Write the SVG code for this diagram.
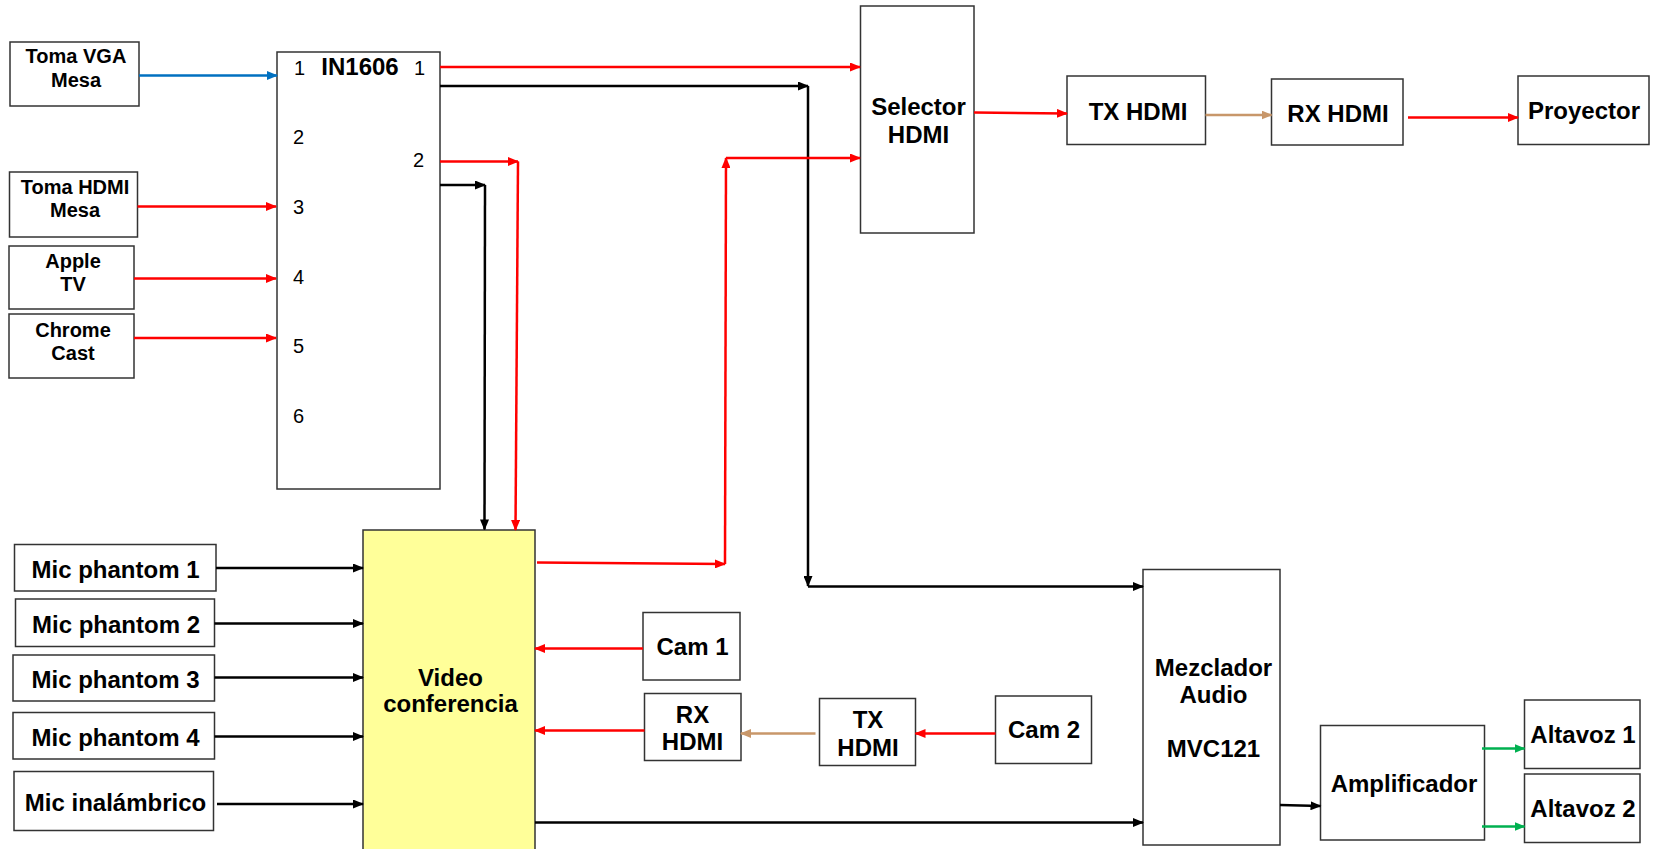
<svg xmlns="http://www.w3.org/2000/svg" width="1665" height="849" viewBox="0 0 1665 849">
<style>
.box{fill:#fff;stroke:#333;stroke-width:1.5}
.yel{fill:#ffff99;stroke:#333;stroke-width:1.5}
.t{font-family:"Liberation Sans",Arial,sans-serif;font-weight:bold;font-size:24px;fill:#000;text-anchor:middle}
.s{font-size:20px}
.n{font-family:"Liberation Sans",Arial,sans-serif;font-size:20px;fill:#000}
.r{stroke:#ff0000;stroke-width:2.5;fill:none;marker-end:url(#ar)}
.k{stroke:#000;stroke-width:2.5;fill:none;marker-end:url(#ak)}
.b{stroke:#0070c0;stroke-width:2.5;fill:none;marker-end:url(#ab)}
.o{stroke:#c8976a;stroke-width:2.5;fill:none;marker-end:url(#ao)}
.g{stroke:#00b050;stroke-width:2.5;fill:none;marker-end:url(#ag)}
</style>
<defs>
<marker id="ar" markerUnits="userSpaceOnUse" markerWidth="11" markerHeight="9" refX="10" refY="4.5" orient="auto"><path d="M0,0 L11,4.5 L0,9 z" fill="#ff0000"/></marker>
<marker id="ak" markerUnits="userSpaceOnUse" markerWidth="11" markerHeight="9" refX="10" refY="4.5" orient="auto"><path d="M0,0 L11,4.5 L0,9 z" fill="#000"/></marker>
<marker id="ab" markerUnits="userSpaceOnUse" markerWidth="11" markerHeight="9" refX="10" refY="4.5" orient="auto"><path d="M0,0 L11,4.5 L0,9 z" fill="#0070c0"/></marker>
<marker id="ao" markerUnits="userSpaceOnUse" markerWidth="11" markerHeight="9" refX="10" refY="4.5" orient="auto"><path d="M0,0 L11,4.5 L0,9 z" fill="#c8976a"/></marker>
<marker id="ag" markerUnits="userSpaceOnUse" markerWidth="11" markerHeight="9" refX="10" refY="4.5" orient="auto"><path d="M0,0 L11,4.5 L0,9 z" fill="#00b050"/></marker>
</defs>

<g id="toma-vga"><rect class="box" x="10" y="42" width="129" height="64"/><text class="t s" x="76" y="63">Toma VGA</text><text class="t s" x="76" y="87">Mesa</text></g>
<g id="toma-hdmi"><rect class="box" x="9.5" y="172" width="128" height="65"/><text class="t s" x="75" y="194">Toma HDMI</text><text class="t s" x="75" y="217">Mesa</text></g>
<g id="apple-tv"><rect class="box" x="9" y="246" width="125" height="63"/><text class="t s" x="73" y="268">Apple</text><text class="t s" x="73" y="291">TV</text></g>
<g id="chromecast"><rect class="box" x="9" y="314" width="125" height="64"/><text class="t s" x="73" y="337">Chrome</text><text class="t s" x="73" y="360">Cast</text></g>

<g id="in1606"><rect class="box" x="277" y="52" width="163" height="437"/>
<text class="n" x="294" y="75">1</text><text class="t" x="360" y="75" style="text-anchor:middle">IN1606</text><text class="n" x="414" y="75">1</text>
<text class="n" x="293" y="144">2</text><text class="n" x="413" y="167">2</text>
<text class="n" x="293" y="214">3</text><text class="n" x="293" y="284">4</text><text class="n" x="293" y="353">5</text><text class="n" x="293" y="423">6</text></g>

<g id="selector"><rect class="box" x="860.5" y="6" width="113.5" height="227"/><text class="t" x="918.5" y="115">Selector</text><text class="t" x="918.5" y="143">HDMI</text></g>
<g id="tx-hdmi-1"><rect class="box" x="1067" y="76" width="138.5" height="68.5"/><text class="t" x="1138" y="120">TX HDMI</text></g>
<g id="rx-hdmi-1"><rect class="box" x="1271.5" y="79" width="131.5" height="66"/><text class="t" x="1338" y="122">RX HDMI</text></g>
<g id="proyector"><rect class="box" x="1518" y="76" width="131" height="68.5"/><text class="t" x="1584" y="119">Proyector</text></g>

<g id="mic1"><rect class="box" x="14.5" y="544.5" width="201.5" height="46.5"/><text class="t" x="115.5" y="578">Mic phantom 1</text></g>
<g id="mic2"><rect class="box" x="15.5" y="599" width="199" height="47.5"/><text class="t" x="116" y="633">Mic phantom 2</text></g>
<g id="mic3"><rect class="box" x="13" y="655" width="201.5" height="46"/><text class="t" x="115.5" y="688">Mic phantom 3</text></g>
<g id="mic4"><rect class="box" x="13" y="712.5" width="201.5" height="46.5"/><text class="t" x="115.5" y="746">Mic phantom 4</text></g>
<g id="mic-inal"><rect class="box" x="14" y="771.5" width="199.5" height="59"/><text class="t" x="115.5" y="811">Mic inalámbrico</text></g>

<g id="videoconf"><rect class="yel" x="363" y="530" width="172" height="322"/><text class="t" x="450.5" y="686">Video</text><text class="t" x="450.5" y="712">conferencia</text></g>

<g id="cam1"><rect class="box" x="643" y="612.5" width="97" height="67.5"/><text class="t" x="692.5" y="655">Cam 1</text></g>
<g id="rx-hdmi-2"><rect class="box" x="644.5" y="693.5" width="96.5" height="67"/><text class="t" x="692.5" y="723">RX</text><text class="t" x="692.5" y="750">HDMI</text></g>
<g id="tx-hdmi-2"><rect class="box" x="819.5" y="698.5" width="96" height="67"/><text class="t" x="868" y="728">TX</text><text class="t" x="868" y="756">HDMI</text></g>
<g id="cam2"><rect class="box" x="995.5" y="696" width="96" height="67.5"/><text class="t" x="1044" y="738">Cam 2</text></g>

<g id="mezclador"><rect class="box" x="1143" y="569.5" width="137" height="275.5"/><text class="t" x="1213.5" y="676">Mezclador</text><text class="t" x="1213.5" y="703">Audio</text><text class="t" x="1213.5" y="757">MVC121</text></g>
<g id="amplificador"><rect class="box" x="1320.5" y="725.5" width="164" height="114.5"/><text class="t" x="1404" y="792">Amplificador</text></g>
<g id="altavoz1"><rect class="box" x="1524.5" y="700" width="115.5" height="68.5"/><text class="t" x="1583" y="743">Altavoz 1</text></g>
<g id="altavoz2"><rect class="box" x="1524.5" y="774" width="115.5" height="68.5"/><text class="t" x="1583" y="817">Altavoz 2</text></g>

<g id="connectors">
<path class="b" d="M139,75.5 H277"/>
<path class="r" d="M137.5,206.5 H276"/>
<path class="r" d="M134,278.5 H276"/>
<path class="r" d="M134,338 H276"/>
<path class="r" d="M440,67 H860"/>
<path class="k" d="M440,86 H808"/>
<path class="k" d="M808,86 V586"/>
<path class="k" d="M808,586.5 H1143"/>
<path class="r" d="M440,161.5 H518"/>
<path class="r" d="M518,161.5 L515.5,530"/>
<path class="k" d="M440,185 H485"/>
<path class="k" d="M485,185 L484.5,529.5"/>
<path class="r" d="M537,562.5 L725,564"/>
<path class="r" d="M725,564 L726,158"/>
<path class="r" d="M726,158 H860"/>
<path class="r" d="M974,112.5 L1067,113.5"/>
<path class="o" d="M1205.5,115 H1271.5"/>
<path class="r" d="M1408,117.5 H1518"/>
<path class="k" d="M216,568 H363"/>
<path class="k" d="M214.5,623.5 H363"/>
<path class="k" d="M214.5,677.5 H363"/>
<path class="k" d="M214.5,736.5 H363"/>
<path class="k" d="M217,804 H363"/>
<path class="r" d="M643,648.5 H535"/>
<path class="r" d="M644.5,730.5 H535"/>
<path class="o" d="M815.5,733.5 H741"/>
<path class="r" d="M995.5,733.5 H915.5"/>
<path class="k" d="M535,822.5 H1143"/>
<path class="k" d="M1280,805 L1320.5,806"/>
<path class="g" d="M1482,748.5 H1524.5"/>
<path class="g" d="M1482,826.5 H1524.5"/>
</g>
</svg>
